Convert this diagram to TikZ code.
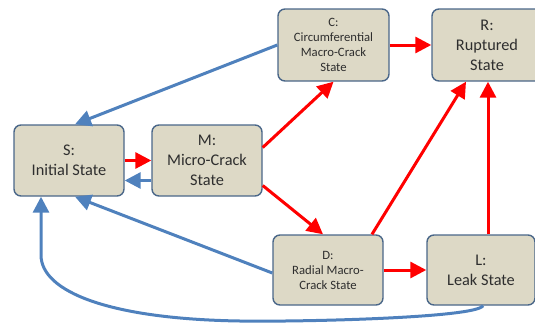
\documentclass[tikz,border=0pt]{standalone}
\usepackage{fontspec}
\setmainfont{Carlito}
\usetikzlibrary{arrows.meta}
\definecolor{boxfill}{HTML}{DDD9C6}
\definecolor{boxdraw}{HTML}{4A6789}
\definecolor{blueline}{HTML}{4F81BD}
\definecolor{redline}{HTML}{FF0000}
\definecolor{txt}{HTML}{2E2E2E}
\tikzset{
  statebox/.style={draw=boxdraw, fill=boxfill, line width=1.4pt, rounded corners=7pt,
    minimum width=110pt, minimum height=71pt, inner sep=2pt, align=center, text=txt},
  bigtext/.style={font=\fontsize{16.3}{20}\selectfont},
  smalltext/.style={font=\fontsize{12.7}{15}\selectfont},
  redarrow/.style={draw=redline, line width=3pt, -{Triangle[length=16pt,width=16pt]}},
  bluearrow/.style={draw=blueline, line width=3pt, -{Triangle[length=16pt,width=16pt]}},
}
\begin{document}
\begin{tikzpicture}[x=1pt,y=-1pt]
\useasboundingbox (0,0) rectangle (535,324);
\node[statebox,bigtext] (S) at (69,160.5) {S:\\Initial State};
\node[statebox,bigtext] (M) at (207,160.5) {M:\\Micro-Crack\\State};
\node[statebox,smalltext,minimum width=111pt,minimum height=72pt] (C) at (333.5,45) {C:\\Circumferential\\Macro-Crack\\State};
\node[statebox,bigtext,minimum height=72pt] (R) at (487,45) {R:\\Ruptured\\State};
\node[statebox,smalltext,minimum height=70pt] (D) at (328,270) {D:\\Radial Macro-\\Crack State};
\node[statebox,bigtext,minimum width=108pt,minimum height=70pt] (L) at (481,270) {L:\\Leak State};

\draw[redarrow] (S.east) -- (M.west);
\draw[bluearrow] ([yshift=-20pt]M.west) -- ([yshift=-20pt]S.east);
\draw[bluearrow] (C.west) -- ([xshift=6pt]S.north);
\draw[redarrow] ([yshift=13pt]M.east) -- (C.south);
\draw[redarrow] ([yshift=-25pt]M.east) -- ([xshift=-5pt]D.north);
\draw[bluearrow] ([yshift=-3pt]D.west) -- ([xshift=6pt]S.south);
\draw[redarrow] (D.east) -- (L.west);
\draw[redarrow] ([xshift=44pt]D.north) -- ([xshift=-21pt]R.south);
\draw[redarrow] ([xshift=7pt]L.north) -- ([xshift=7pt]L.north |- R.south);
\draw[redarrow] (C.east) -- (R.west);
\coordinate (bot) at (240,321);
\draw[bluearrow] ([xshift=2pt]L.south) .. controls (476,318) and (300,322) .. (bot)
  .. controls (110,319) and (41,292) .. (41,255) -- (S.south -| 41,0);
\end{tikzpicture}
\end{document}
